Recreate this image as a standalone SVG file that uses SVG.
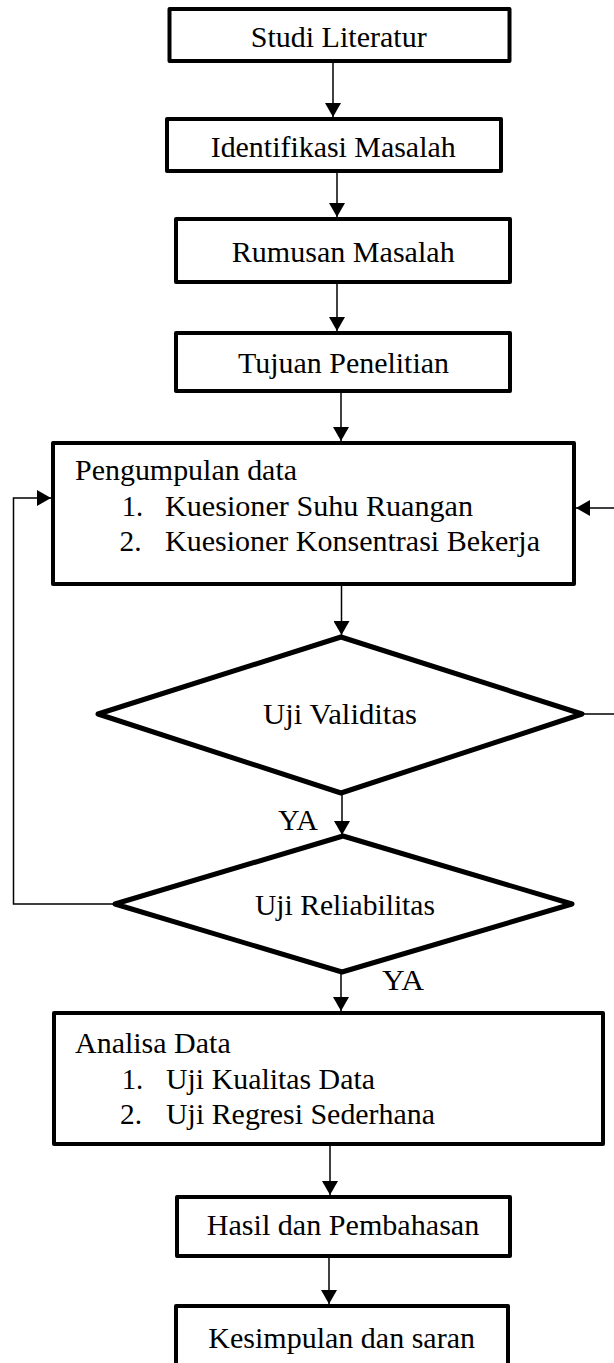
<svg xmlns="http://www.w3.org/2000/svg" width="614" height="1363" viewBox="0 0 614 1363">
<style>
.box{fill:#fff;stroke:#000;stroke-width:4;stroke-linejoin:round}
.dia{fill:#fff;stroke:#000;stroke-width:5;stroke-linejoin:round}
.con{fill:none;stroke:#000;stroke-width:1.5}
.t{font-family:"Liberation Serif","Times New Roman",serif;font-size:30px;fill:#000}
</style>
<defs>
<marker id="ah" viewBox="0 0 14 16" refX="14" refY="8" markerWidth="14" markerHeight="16" markerUnits="userSpaceOnUse" orient="auto">
<path d="M0,0 L14,8 L0,16 z" fill="#000"/>
</marker>
</defs>
<rect width="614" height="1363" fill="#fff"/>
<g id="connectors">
<line class="con" x1="333" y1="63" x2="333" y2="117" marker-end="url(#ah)"/>
<line class="con" x1="337" y1="173" x2="337" y2="217" marker-end="url(#ah)"/>
<line class="con" x1="337" y1="284" x2="337" y2="331" marker-end="url(#ah)"/>
<line class="con" x1="341" y1="393" x2="341" y2="441" marker-end="url(#ah)"/>
<line class="con" x1="341.5" y1="586" x2="341.5" y2="635" marker-end="url(#ah)"/>
<line class="con" x1="342" y1="794" x2="342" y2="835" marker-end="url(#ah)"/>
<line class="con" x1="341" y1="973" x2="341" y2="1011" marker-end="url(#ah)"/>
<line class="con" x1="330" y1="1146" x2="330" y2="1195" marker-end="url(#ah)"/>
<line class="con" x1="329" y1="1258" x2="329" y2="1304" marker-end="url(#ah)"/>
<path class="con" d="M115,904 H13.5 V498 H51" marker-end="url(#ah)"/>
<path class="con" d="M584,714 H620 V508 H576" marker-end="url(#ah)"/>
<text class="t" x="278" y="830" textLength="40" lengthAdjust="spacingAndGlyphs">YA</text>
<text class="t" x="382" y="990" textLength="42" lengthAdjust="spacingAndGlyphs">YA</text>
</g>
<g id="studi-literatur">
<rect class="box" x="169.5" y="9" width="340" height="52"/>
<text class="t" x="250.7" y="46.5" textLength="176" lengthAdjust="spacingAndGlyphs">Studi Literatur</text>
</g>
<g id="identifikasi-masalah">
<rect class="box" x="167" y="119" width="334" height="52"/>
<text class="t" x="210.7" y="156.7" textLength="245" lengthAdjust="spacingAndGlyphs">Identifikasi Masalah</text>
</g>
<g id="rumusan-masalah">
<rect class="box" x="176" y="219" width="334" height="63"/>
<text class="t" x="231.7" y="261.7" textLength="223" lengthAdjust="spacingAndGlyphs">Rumusan Masalah</text>
</g>
<g id="tujuan-penelitian">
<rect class="box" x="176" y="333" width="334" height="58"/>
<text class="t" x="238" y="373.3" textLength="211" lengthAdjust="spacingAndGlyphs">Tujuan Penelitian</text>
</g>
<g id="pengumpulan-data">
<rect class="box" x="53" y="443" width="521" height="141"/>
<text class="t" x="75" y="480" textLength="222" lengthAdjust="spacingAndGlyphs">Pengumpulan data</text>
<text class="t" x="121.7" y="515.5" textLength="21.5" lengthAdjust="spacingAndGlyphs">1.</text>
<text class="t" x="165" y="515.5" textLength="308" lengthAdjust="spacingAndGlyphs">Kuesioner Suhu Ruangan</text>
<text class="t" x="119.5" y="551" textLength="22" lengthAdjust="spacingAndGlyphs">2.</text>
<text class="t" x="165" y="551" textLength="375" lengthAdjust="spacingAndGlyphs">Kuesioner Konsentrasi Bekerja</text>
</g>
<g id="uji-validitas">
<polygon class="dia" points="341,637 582,714 341,793 98,714"/>
<text class="t" x="263" y="724" textLength="154" lengthAdjust="spacingAndGlyphs">Uji Validitas</text>
</g>
<g id="uji-reliabilitas">
<polygon class="dia" points="343,836 572,904 342,972 115,904"/>
<text class="t" x="255" y="915" textLength="180" lengthAdjust="spacingAndGlyphs">Uji Reliabilitas</text>
</g>
<g id="analisa-data">
<rect class="box" x="54" y="1013" width="549" height="131"/>
<text class="t" x="75" y="1053" textLength="155.7" lengthAdjust="spacingAndGlyphs">Analisa Data</text>
<text class="t" x="121.7" y="1089" textLength="21.5" lengthAdjust="spacingAndGlyphs">1.</text>
<text class="t" x="166" y="1089" textLength="209" lengthAdjust="spacingAndGlyphs">Uji Kualitas Data</text>
<text class="t" x="120" y="1124" textLength="22" lengthAdjust="spacingAndGlyphs">2.</text>
<text class="t" x="166" y="1124" textLength="269" lengthAdjust="spacingAndGlyphs">Uji Regresi Sederhana</text>
</g>
<g id="hasil-pembahasan">
<rect class="box" x="177" y="1197" width="333" height="59"/>
<text class="t" x="206.7" y="1235" textLength="272.6" lengthAdjust="spacingAndGlyphs">Hasil dan Pembahasan</text>
</g>
<g id="kesimpulan-saran">
<rect class="box" x="176" y="1306" width="332" height="70"/>
<text class="t" x="208.3" y="1348" textLength="266.7" lengthAdjust="spacingAndGlyphs">Kesimpulan dan saran</text>
</g>
</svg>
